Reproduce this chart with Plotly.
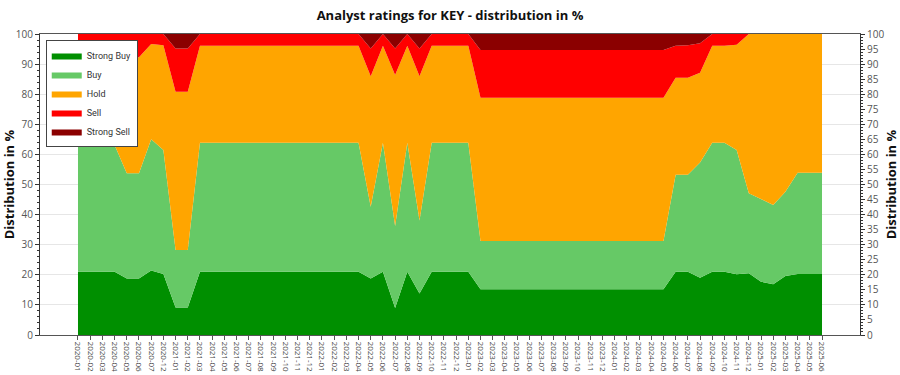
import plotly.graph_objects as go

months = [
    "2020-01", "2020-02", "2020-03", "2020-04", "2020-05", "2020-06", "2020-07", "2020-12",
    "2021-01", "2021-02", "2021-03", "2021-04", "2021-05", "2021-06", "2021-07", "2021-08",
    "2021-09", "2021-10", "2021-11", "2021-12",
    "2022-01", "2022-02", "2022-03", "2022-04", "2022-05", "2022-06", "2022-07", "2022-08",
    "2022-09", "2022-10", "2022-11", "2022-12",
    "2023-01", "2023-02", "2023-03", "2023-04", "2023-05", "2023-06", "2023-07", "2023-08",
    "2023-09", "2023-10", "2023-11", "2023-12",
    "2024-01", "2024-02", "2024-03", "2024-04", "2024-05", "2024-06", "2024-07", "2024-08",
    "2024-09", "2024-10", "2024-11", "2024-12",
    "2025-01", "2025-02", "2025-03", "2025-04", "2025-05", "2025-06",
]

strong_buy = [
    21.0, 21.0, 21.0, 21.0, 18.8, 18.8, 21.4, 20.3,
    9.1, 9.1, 21.0, 21.0, 21.0, 21.0, 21.0, 21.0,
    21.0, 21.0, 21.0, 21.0,
    21.0, 21.0, 21.0, 21.0, 18.8, 21.0, 9.0, 21.0,
    13.8, 21.0, 21.0, 21.0,
    21.0, 15.2, 15.2, 15.2, 15.2, 15.2, 15.2, 15.2,
    15.2, 15.2, 15.2, 15.2,
    15.2, 15.2, 15.2, 15.2, 15.2, 21.0, 21.0, 19.0,
    21.0, 21.0, 20.2, 20.5,
    17.7, 16.9, 19.6, 20.3, 20.3, 20.3,
]

buy = [
    42.1, 42.1, 42.1, 42.1, 34.9, 34.9, 43.6, 41.2,
    19.1, 19.1, 42.9, 42.9, 42.9, 42.9, 42.9, 42.9,
    42.9, 42.9, 42.9, 42.9,
    42.9, 42.9, 42.9, 42.9, 23.8, 42.9, 27.2, 42.9,
    24.2, 42.9, 42.9, 42.9,
    42.9, 16.0, 16.0, 16.0, 16.0, 16.0, 16.0, 16.0,
    16.0, 16.0, 16.0, 16.0,
    16.0, 16.0, 16.0, 16.0, 16.0, 32.2, 32.2, 38.3,
    42.9, 42.9, 41.3, 26.6,
    27.5, 26.3, 28.0, 33.6, 33.6, 33.6,
]

hold = [
    29.9, 29.9, 29.9, 29.9, 38.6, 38.6, 31.7, 34.8,
    52.6, 52.6, 32.2, 32.2, 32.2, 32.2, 32.2, 32.2,
    32.2, 32.2, 32.2, 32.2,
    32.2, 32.2, 32.2, 32.2, 43.4, 32.2, 50.2, 32.2,
    48.0, 32.2, 32.2, 32.2,
    32.2, 47.6, 47.6, 47.6, 47.6, 47.6, 47.6, 47.6,
    47.6, 47.6, 47.6, 47.6,
    47.6, 47.6, 47.6, 47.6, 47.6, 32.3, 32.3, 29.8,
    32.2, 32.2, 34.9, 52.9,
    54.8, 56.8, 52.4, 46.1, 46.1, 46.1,
]

sell = [
    7.0, 7.0, 7.0, 7.0, 7.7, 7.7, 3.3, 3.7,
    14.4, 14.4, 3.9, 3.9, 3.9, 3.9, 3.9, 3.9,
    3.9, 3.9, 3.9, 3.9,
    3.9, 3.9, 3.9, 3.9, 9.2, 3.9, 8.8, 3.9,
    9.2, 3.9, 3.9, 3.9,
    3.9, 15.9, 15.9, 15.9, 15.9, 15.9, 15.9, 15.9,
    15.9, 15.9, 15.9, 15.9,
    15.9, 15.9, 15.9, 15.9, 15.9, 10.6, 10.8, 9.8,
    3.9, 3.9, 3.6, 0.0,
    0.0, 0.0, 0.0, 0.0, 0.0, 0.0,
]

strong_sell = [
    0.0, 0.0, 0.0, 0.0, 0.0, 0.0, 0.0, 0.0,
    4.8, 4.8, 0.0, 0.0, 0.0, 0.0, 0.0, 0.0,
    0.0, 0.0, 0.0, 0.0,
    0.0, 0.0, 0.0, 0.0, 4.8, 0.0, 4.8, 0.0,
    4.8, 0.0, 0.0, 0.0,
    0.0, 5.3, 5.3, 5.3, 5.3, 5.3, 5.3, 5.3,
    5.3, 5.3, 5.3, 5.3,
    5.3, 5.3, 5.3, 5.3, 5.3, 3.9, 3.7, 3.1,
    0.0, 0.0, 0.0, 0.0,
    0.0, 0.0, 0.0, 0.0, 0.0, 0.0,
]

series = [
    ("Strong Buy", strong_buy, "#008f00"),
    ("Buy", buy, "#66c966"),
    ("Hold", hold, "#ffa500"),
    ("Sell", sell, "#ff0000"),
    ("Strong Sell", strong_sell, "#8b0000"),
]

FONT = "Open Sans"

fig = go.Figure()
for name, vals, col in series:
    fig.add_trace(go.Scatter(
        x=months, y=vals, name=name, mode="lines",
        stackgroup="one", line=dict(width=0, color=col),
        fillcolor=col,
    ))

# invisible trace to carry the right-hand axis
fig.add_trace(go.Scatter(
    x=[months[0]], y=[0], yaxis="y2", mode="markers",
    marker=dict(opacity=0), showlegend=False, hoverinfo="skip",
))

n = len(months)
fig.update_layout(
    width=900, height=375,
    margin=dict(l=40, r=40, t=34, b=40, autoexpand=False),
    paper_bgcolor="white", plot_bgcolor="white",
    font=dict(family=FONT, size=10, color="#444"),
    title=dict(
        text="<b>Analyst ratings for KEY - distribution in %</b>",
        x=0.5, xanchor="center", y=0.96, yanchor="middle",
        font=dict(family=FONT, size=13, color="#111"),
    ),
    showlegend=True,
    legend=dict(
        x=0.007, y=0.98, xanchor="left", yanchor="top",
        bgcolor="white", bordercolor="#444", borderwidth=1,
        font=dict(family="Roboto", size=9, color="#333"),
        traceorder="normal", itemwidth=30,
    ),
    xaxis=dict(
        type="category", range=[-3.115, n - 1 + 3.115],
        tickmode="array", tickvals=months, ticktext=months,
        tickangle=90, tickfont=dict(family=FONT, size=8, color="#444"),
        ticks="outside", ticklen=4, tickcolor="#555",
        showline=True, linecolor="#555", linewidth=1, mirror=True,
        showgrid=False, automargin=False,
    ),
    yaxis=dict(
        range=[0, 100], dtick=10, showgrid=True, gridcolor="#e6e6e6",
        ticks="outside", ticklen=4, tickcolor="#333",
        showline=True, linecolor="#333", linewidth=1,
        minor=dict(dtick=2, ticks="outside", ticklen=2, tickcolor="#333", showgrid=False),
        tickfont=dict(size=10, color="#555"),
        title=dict(text="<b>Distribution in %</b>", font=dict(size=13, color="#111"), standoff=8),
        automargin=False, zeroline=False,
    ),
    yaxis2=dict(
        overlaying="y", side="right", range=[0, 100], dtick=5, showgrid=False,
        ticks="outside", ticklen=4, tickcolor="#333",
        showline=True, linecolor="#333", linewidth=1,
        minor=dict(dtick=1, ticks="outside", ticklen=2, tickcolor="#333", showgrid=False),
        tickfont=dict(size=10, color="#555"),
        title=dict(text="<b>Distribution in %</b>", font=dict(size=13, color="#111"), standoff=8),
        automargin=False, zeroline=False,
    ),
)

fig.write_html("out.html")
